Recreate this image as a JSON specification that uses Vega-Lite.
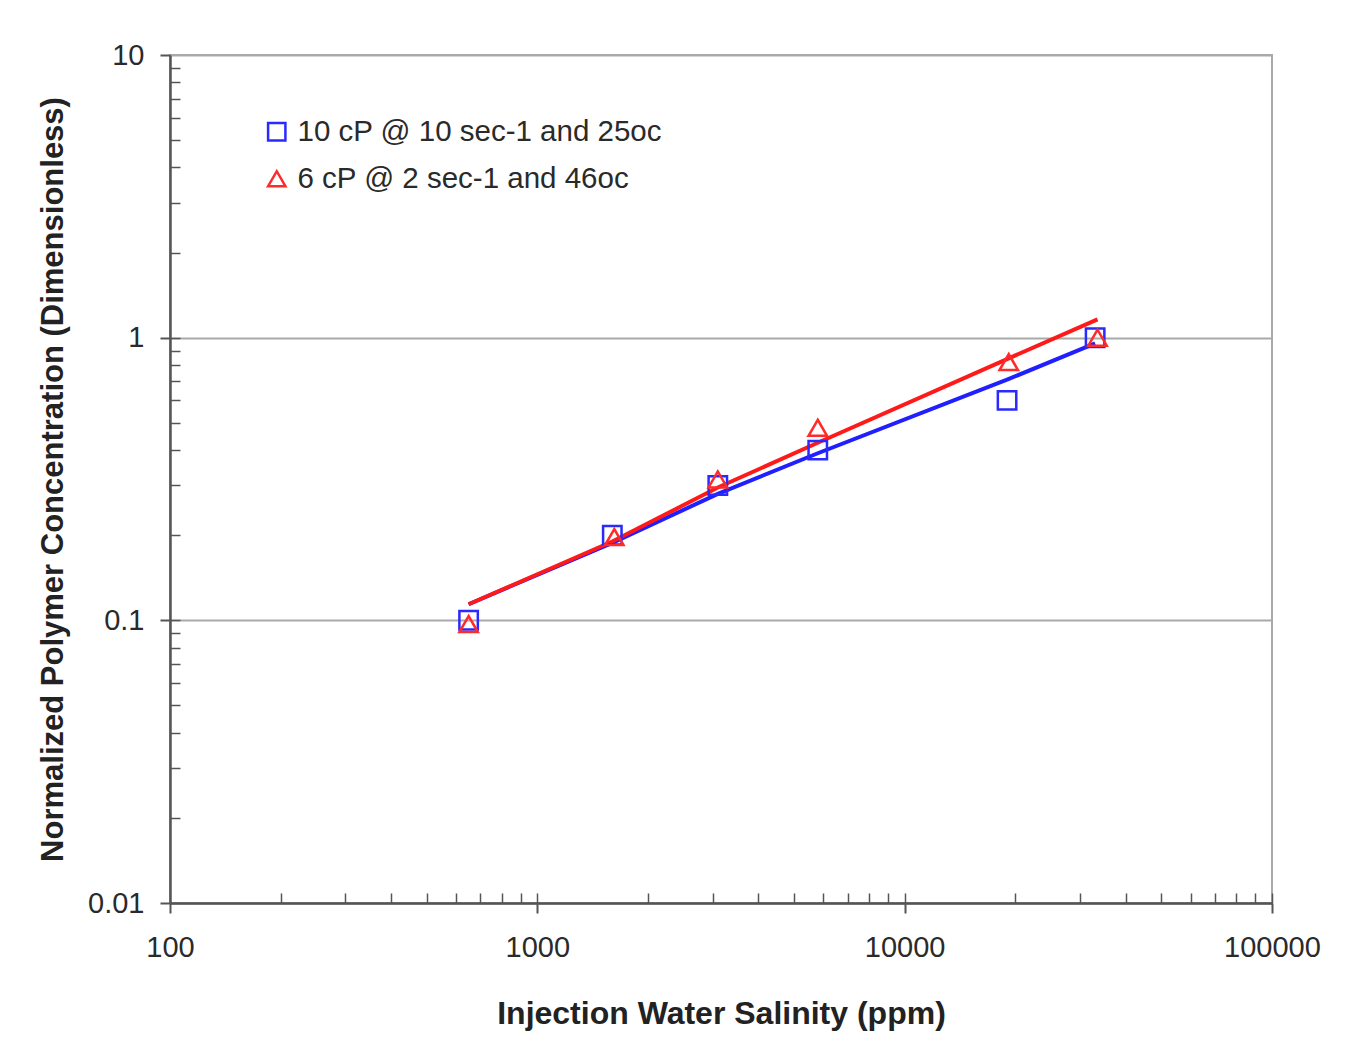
{
  "$schema": "https://vega.github.io/schema/vega-lite/v6.json",
  "autosize": "none",
  "width": 1102,
  "height": 848,
  "padding": {"left": 170, "top": 55, "right": 93, "bottom": 140},
  "background": "white",
  "config": {
    "font": "Liberation Sans",
    "view": {"stroke": "#a9a9a9", "strokeWidth": 2},
    "axis": {"labelFont": "Liberation Sans", "titleFont": "Liberation Sans"}
  },
  "datasets": {
    "measured": [
      {"salinity": 650, "conc": 0.1, "series": "10 cP @ 10 sec-1 and 25oc"},
      {"salinity": 1600, "conc": 0.2, "series": "10 cP @ 10 sec-1 and 25oc"},
      {"salinity": 3100, "conc": 0.3, "series": "10 cP @ 10 sec-1 and 25oc"},
      {"salinity": 5800, "conc": 0.4, "series": "10 cP @ 10 sec-1 and 25oc"},
      {"salinity": 19000, "conc": 0.6, "series": "10 cP @ 10 sec-1 and 25oc"},
      {"salinity": 33000, "conc": 1.0, "series": "10 cP @ 10 sec-1 and 25oc"},
      {"salinity": 650, "conc": 0.097, "series": "6 cP @ 2 sec-1 and 46oc"},
      {"salinity": 1620, "conc": 0.197, "series": "6 cP @ 2 sec-1 and 46oc"},
      {"salinity": 3100, "conc": 0.315, "series": "6 cP @ 2 sec-1 and 46oc"},
      {"salinity": 5800, "conc": 0.48, "series": "6 cP @ 2 sec-1 and 46oc"},
      {"salinity": 19200, "conc": 0.82, "series": "6 cP @ 2 sec-1 and 46oc"},
      {"salinity": 33500, "conc": 1.0, "series": "6 cP @ 2 sec-1 and 46oc"}
    ],
    "fitted": [
      {"salinity": 650, "conc": 0.114, "series": "10 cP @ 10 sec-1 and 25oc"},
      {"salinity": 1600, "conc": 0.188, "series": "10 cP @ 10 sec-1 and 25oc"},
      {"salinity": 3100, "conc": 0.28, "series": "10 cP @ 10 sec-1 and 25oc"},
      {"salinity": 5800, "conc": 0.39, "series": "10 cP @ 10 sec-1 and 25oc"},
      {"salinity": 19000, "conc": 0.71, "series": "10 cP @ 10 sec-1 and 25oc"},
      {"salinity": 33000, "conc": 0.955, "series": "10 cP @ 10 sec-1 and 25oc"},
      {"salinity": 650, "conc": 0.114, "series": "6 cP @ 2 sec-1 and 46oc"},
      {"salinity": 1600, "conc": 0.19, "series": "6 cP @ 2 sec-1 and 46oc"},
      {"salinity": 3100, "conc": 0.295, "series": "6 cP @ 2 sec-1 and 46oc"},
      {"salinity": 5800, "conc": 0.425, "series": "6 cP @ 2 sec-1 and 46oc"},
      {"salinity": 19000, "conc": 0.84, "series": "6 cP @ 2 sec-1 and 46oc"},
      {"salinity": 33500, "conc": 1.16, "series": "6 cP @ 2 sec-1 and 46oc"}
    ]
  },
  "layer": [
    {
      "data": {"name": "fitted"},
      "transform": [{"filter": "datum.series === '10 cP @ 10 sec-1 and 25oc'"}],
      "mark": {"type": "line", "strokeWidth": 4, "clip": true, "color": "#1f1fff"},
      "encoding": {
        "x": {
          "field": "salinity", "type": "quantitative",
          "scale": {"type": "log", "domain": [100, 100000], "nice": false},
          "axis": {
            "orient": "bottom", "title": null, "labels": false, "domain": false, "grid": false,
            "values": [200, 300, 400, 500, 600, 700, 800, 900, 1000, 2000, 3000, 4000, 5000, 6000, 7000, 8000, 9000, 10000, 20000, 30000, 40000, 50000, 60000, 70000, 80000, 90000, 100000],
            "tickSize": -10, "tickColor": "#555555", "tickWidth": 1.5
          }
        },
        "y": {
          "field": "conc", "type": "quantitative",
          "scale": {"type": "log", "domain": [0.01, 10], "nice": false},
          "axis": {
            "orient": "left", "title": null, "labels": false, "domain": false, "grid": false,
            "values": [0.02, 0.03, 0.04, 0.05, 0.06, 0.07, 0.08, 0.09, 0.1, 0.2, 0.3, 0.4, 0.5, 0.6, 0.7, 0.8, 0.9, 1, 2, 3, 4, 5, 6, 7, 8, 9],
            "tickSize": -10, "tickColor": "#555555", "tickWidth": 1.5
          }
        },
        "order": {"field": "salinity", "type": "quantitative"}
      }
    },
    {
      "data": {"name": "fitted"},
      "transform": [{"filter": "datum.series === '6 cP @ 2 sec-1 and 46oc'"}],
      "mark": {"type": "line", "strokeWidth": 4, "clip": true, "color": "#ff1a1a"},
      "encoding": {
        "x": {"field": "salinity", "type": "quantitative", "axis": null},
        "y": {"field": "conc", "type": "quantitative", "axis": null},
        "order": {"field": "salinity", "type": "quantitative"}
      }
    },
    {
      "data": {"name": "measured"},
      "mark": {"type": "point", "filled": false, "strokeWidth": 2.5, "size": 340, "opacity": 1},
      "encoding": {
        "x": {
          "field": "salinity", "type": "quantitative",
          "axis": {
            "orient": "bottom", "title": "Injection Water Salinity (ppm)",
            "values": [100, 1000, 10000, 100000], "format": "d", "labelFlush": false,
            "tickSize": 10, "tickColor": "#555555", "tickWidth": 2,
            "domainColor": "#555555", "domainWidth": 2.5, "grid": false,
            "labelFontSize": 29, "labelColor": "#2a2a2a", "labelPadding": 20,
            "titleFontSize": 32, "titleFontWeight": "bold", "titleColor": "#222222", "titlePadding": 36
          }
        },
        "y": {
          "field": "conc", "type": "quantitative",
          "axis": {
            "orient": "left", "title": "Normalized Polymer Concentration (Dimensionless)",
            "values": [0.01, 0.1, 1, 10], "format": "~g", "labelFlush": false,
            "tickSize": 10, "tickColor": "#555555", "tickWidth": 2,
            "domainColor": "#555555", "domainWidth": 2.5,
            "grid": true, "gridColor": "#a9a9a9", "gridWidth": 2,
            "labelFontSize": 29, "labelColor": "#2a2a2a", "labelPadding": 16,
            "titleFontSize": 31, "titleFontWeight": "bold", "titleColor": "#222222", "titlePadding": 18
          }
        },
        "color": {
          "field": "series", "type": "nominal",
          "scale": {"domain": ["10 cP @ 10 sec-1 and 25oc", "6 cP @ 2 sec-1 and 46oc"], "range": ["#2a2aff", "#ff2a2a"]},
          "legend": {
            "title": null, "orient": "none", "legendX": 92, "legendY": 62,
            "labelFontSize": 29.5, "labelColor": "#2a2a2a", "labelFont": "Liberation Sans", "labelLimit": 0,
            "symbolSize": 300, "symbolStrokeWidth": 2.5, "labelOffset": 6, "rowPadding": 16
          }
        },
        "shape": {
          "field": "series", "type": "nominal",
          "scale": {"domain": ["10 cP @ 10 sec-1 and 25oc", "6 cP @ 2 sec-1 and 46oc"], "range": ["square", "triangle-up"]}
        }
      }
    }
  ],
  "resolve": {"axis": {"x": "independent", "y": "independent"}}
}
